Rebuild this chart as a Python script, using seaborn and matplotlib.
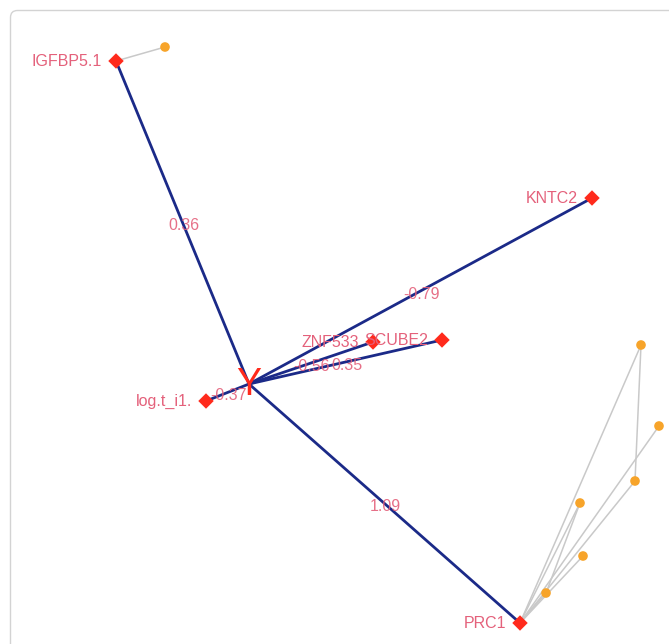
import matplotlib
matplotlib.use("Agg")
import matplotlib.pyplot as plt
from matplotlib.patches import FancyBboxPatch
import seaborn as sns
import pandas as pd

sns.set_theme(style="white")
plt.rcParams["font.family"] = ["Liberation Sans", "DejaVu Sans"]

# Hub node of the network (layout coordinates)
hub_label = "Y"
hub_pos = (249, 384)

# Gene nodes connected to the hub, with edge weights
genes = ["IGFBP5.1", "KNTC2", "ZNF533", "SCUBE2", "log.t_i1.", "PRC1"]
gene_x = [116, 592, 373, 442, 206, 520]
gene_y = [61, 198, 342, 340, 401, 623]
weights = [0.36, -0.79, -0.56, 0.35, -0.37, 1.09]

# Secondary (unlabelled) neighbour nodes
nb_x = [165, 641, 659, 635, 580, 583, 546]
nb_y = [47, 345, 426, 481, 503, 556, 593]

# Secondary edges as (node, node) pairs; gene nodes referenced by name,
# neighbour nodes by index
side_edges = [
    ("IGFBP5.1", 0),
    ("PRC1", 1),
    ("PRC1", 2),
    ("PRC1", 3),
    ("PRC1", 4),
    ("PRC1", 5),
    ("PRC1", 6),
    (6, 4),
    (1, 3),
]

W, H = 669, 644
fig = plt.figure(figsize=(W / 100, H / 100), dpi=100)
ax = fig.add_axes([0, 0, 1, 1])

# Panel frame (runs off the right and bottom edges)
panel = FancyBboxPatch((10.5, 10.5), 800, 800,
                       boxstyle="round,pad=0,rounding_size=7",
                       facecolor="white", edgecolor="#d3d3d3", linewidth=1.0,
                       zorder=0)
ax.add_patch(panel)

gene_pos = {g: (x, y) for g, x, y in zip(genes, gene_x, gene_y)}


def node_xy(n):
    if isinstance(n, str):
        return gene_pos[n]
    return (nb_x[n], nb_y[n])


# Secondary edges in light grey
for a, b in side_edges:
    (x0, y0), (x1, y1) = node_xy(a), node_xy(b)
    ax.plot([x0, x1], [y0, y1], color="#c9c9c9", lw=1.1, zorder=1,
            solid_capstyle="round")

# Hub edges in navy
for g in genes:
    x1, y1 = gene_pos[g]
    ax.plot([hub_pos[0], x1], [hub_pos[1], y1], color="#1b2a88", lw=2.0,
            zorder=2)

nodes_nb = pd.DataFrame({"x": nb_x, "y": nb_y})
nodes_gene = pd.DataFrame({"x": gene_x, "y": gene_y, "gene": genes})

sns.scatterplot(data=nodes_nb, x="x", y="y", ax=ax, color="#f7a42a",
                s=48, edgecolor="none", zorder=3, legend=False)
sns.scatterplot(data=nodes_gene, x="x", y="y", ax=ax, color="#ff2a1c",
                marker="D", s=62, edgecolor="none", zorder=4, legend=False)
ax.set_xlim(0, W)
ax.set_ylim(H, 0)
ax.axis("off")

label_color = "#e4617b"

# Gene labels to the left of each node
for g, x, y in zip(genes, gene_x, gene_y):
    ax.annotate(g, (x, y), xytext=(-14, 0), textcoords="offset pixels",
                ha="right", va="center", fontsize=11.5, color=label_color,
                zorder=6)

# Edge weight labels at edge midpoints
for g, w in zip(genes, weights):
    x1, y1 = gene_pos[g]
    mx, my = (hub_pos[0] + x1) / 2, (hub_pos[1] + y1) / 2
    ax.text(mx + 1, my + 3, f"{w:.2f}", ha="center", va="center",
            fontsize=11.5, color=label_color, alpha=0.9, zorder=6)

# Hub node glyph
ax.text(hub_pos[0], hub_pos[1] + 1, hub_label, ha="center", va="center",
        fontsize=27, color="#ff2a1c", zorder=5)

fig.savefig("out.png", dpi=100, facecolor="white")
